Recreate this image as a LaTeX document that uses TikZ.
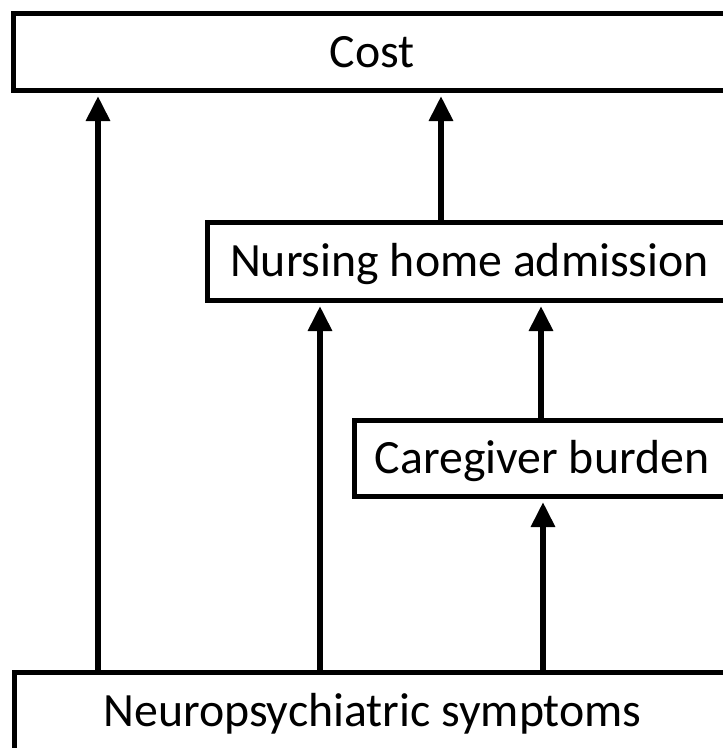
\documentclass[tikz,border=0pt]{standalone}
\usepackage{fontspec}
\setmainfont{Carlito}
\usetikzlibrary{arrows.meta}
\begin{document}
\begin{tikzpicture}[x=1pt,y=-1pt,
  box/.style={draw, line width=5pt, inner sep=0pt, outer sep=0pt,
    font=\fontsize{47.8}{52}\selectfont, text height=31pt, text depth=0pt},
  arr/.style={line width=6pt, -{Triangle[length=25pt,width=23pt]}, shorten >=6pt}]
\useasboundingbox (0,0) rectangle (723,748);
\clip (0,0) rectangle (723,748);
\node[box, minimum width=718pt, minimum height=77pt] (cost) at (372,51.5) {Cost};
\node[box, minimum width=525pt, minimum height=78pt] (nha) at (469.5,261) {Nursing home admission};
\node[box, minimum width=376pt, minimum height=76pt] (cg) at (542,458) {Caregiver burden};
\node[box, minimum width=717pt, minimum height=78pt] (neuro) at (372.5,711) {Neuropsychiatric symptoms};
\coordinate (a1) at ([xshift=84pt]neuro.north west);
\coordinate (a2) at ([xshift=234pt]nha.north west);
\coordinate (a3) at ([xshift=306pt]neuro.north west);
\coordinate (a4) at ([xshift=187pt]cg.north west);
\coordinate (a5) at ([xshift=529pt]neuro.north west);
\draw[arr] (a1) -- (a1 |- cost.south);
\draw[arr] (a2) -- (a2 |- cost.south);
\draw[arr] (a3) -- (a3 |- nha.south);
\draw[arr] (a4) -- (a4 |- nha.south);
\draw[arr] (a5) -- (a5 |- cg.south);
\end{tikzpicture}
\end{document}
